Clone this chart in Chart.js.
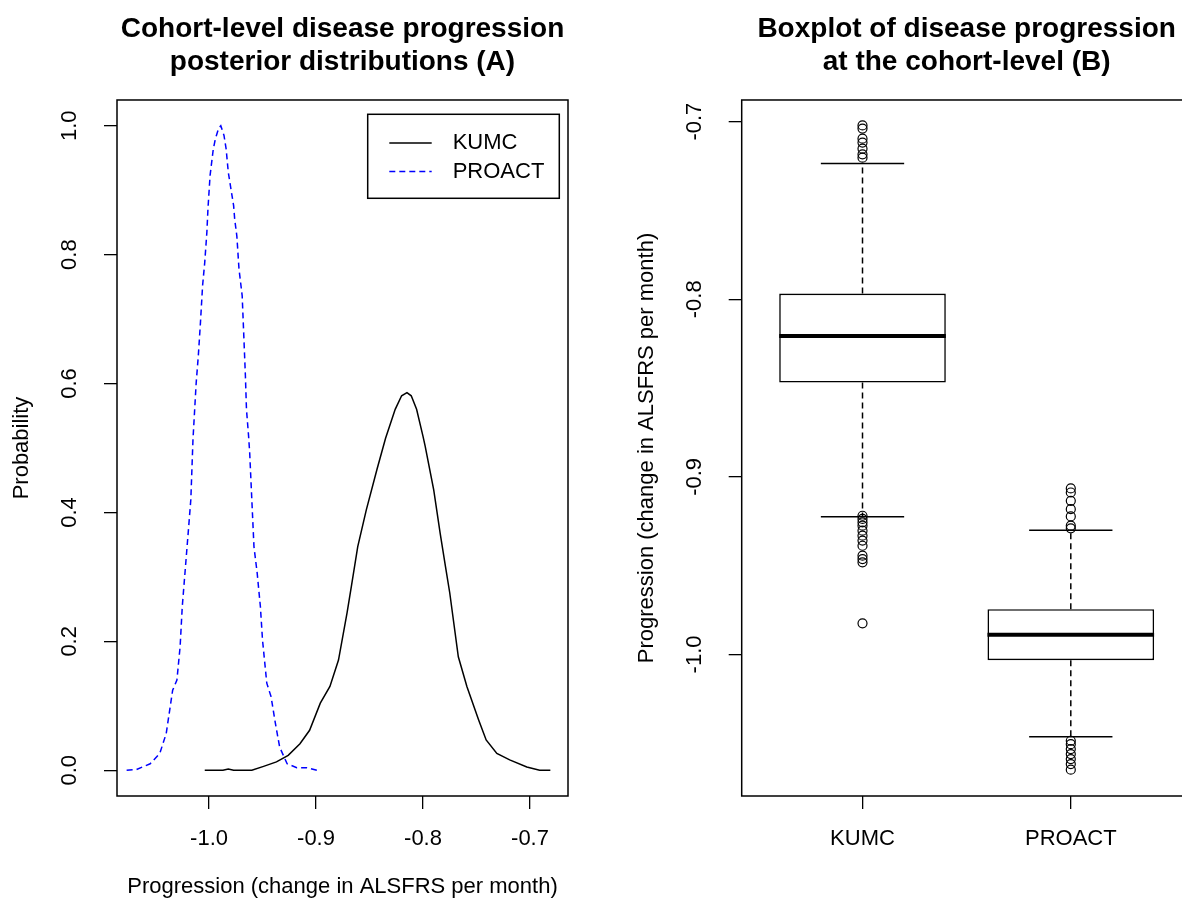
<!DOCTYPE html>
<html>
<head>
<meta charset="utf-8">
<title>Cohort-level disease progression</title>
<script src="https://cdn.jsdelivr.net/npm/chart.js@4.4.1/dist/chart.umd.min.js"></script>
<style>
  html, body { margin: 0; padding: 0; background: #fff; overflow: hidden; width: 1182px; height: 909px; }
  #densityChart { position: absolute; left: 0; top: 0; }
  #boxChart { position: absolute; left: 620px; top: 0; }
</style>
</head>
<body>
<canvas id="densityChart" width="600" height="909"></canvas>
<canvas id="boxChart" width="600" height="909"></canvas>
<script>
// panel A - posterior densities
const kumcX = [-1.004, -0.987, -0.982, -0.977, -0.960, -0.949, -0.937, -0.926, -0.915, -0.906,
    -0.896, -0.887, -0.879, -0.871, -0.867, -0.861, -0.853, -0.843, -0.835, -0.826,
    -0.820, -0.815, -0.811, -0.806, -0.800, -0.798, -0.790, -0.784, -0.779, -0.775,
    -0.767, -0.759, -0.748, -0.741, -0.731, -0.719, -0.703, -0.691, -0.681];
const kumcY = [0, 0, 0.002, 0, 0, 0.006, 0.013, 0.023, 0.041, 0.062,
    0.104, 0.130, 0.171, 0.244, 0.285, 0.347, 0.404, 0.467, 0.515, 0.560,
    0.581, 0.586, 0.581, 0.560, 0.518, 0.503, 0.435, 0.368, 0.316, 0.275,
    0.176, 0.130, 0.078, 0.047, 0.026, 0.016, 0.005, 0, 0];
const proactX = [-1.077, -1.068, -1.055, -1.046, -1.040, -1.034, -1.030, -1.027, -1.025, -1.022,
    -1.019, -1.017, -1.015, -1.012, -1.010, -1.008, -1.006, -1.004, -1.002, -1.001,
    -0.999, -0.996, -0.994, -0.991, -0.989, -0.986, -0.984, -0.982, -0.980, -0.977,
    -0.976, -0.974, -0.972, -0.969, -0.968, -0.966, -0.965, -0.963, -0.962, -0.960,
    -0.958, -0.955, -0.952, -0.950, -0.946, -0.942, -0.938, -0.934, -0.927, -0.918,
    -0.909, -0.899];
const proactY = [0, 0.001, 0.010, 0.026, 0.057, 0.124, 0.140, 0.192, 0.254, 0.316,
    0.378, 0.420, 0.513, 0.601, 0.643, 0.695, 0.752, 0.788, 0.835, 0.871,
    0.923, 0.964, 0.980, 0.996, 1.000, 0.985, 0.964, 0.928, 0.907, 0.876,
    0.855, 0.829, 0.778, 0.736, 0.695, 0.612, 0.560, 0.518, 0.493, 0.420,
    0.347, 0.306, 0.254, 0.202, 0.135, 0.114, 0.073, 0.036, 0.010, 0.004,
    0.004, 0];
const densityXTicks = [-1.0, -0.9, -0.8, -0.7];
const densityYTicks = [0, 0.2, 0.4, 0.6, 0.8, 1.0];

// panel B - boxplot summary per cohort
const cohorts = ['KUMC', 'PROACT'];
const lowerWhisker = [-0.9225, -1.0463];
const q1 = [-0.8469, -1.0032];
const median = [-0.8207, -0.9889];
const q3 = [-0.7968, -0.9745];
const upperWhisker = [-0.7236, -0.9300];
const kumcOutliers = [-0.7021, -0.7039, -0.7096, -0.7118, -0.7152, -0.7184, -0.7203,
    -0.9219, -0.9237, -0.9256, -0.9275, -0.9303, -0.9331, -0.9359, -0.9388,
    -0.9444, -0.9463, -0.9481, -0.9825];
const proactOutliers = [-0.9065, -0.9088, -0.9135, -0.9182, -0.9223, -0.9275, -0.9290,
    -1.0486, -1.0505, -1.0533, -1.0561, -1.0589, -1.0617, -1.0649];
const boxYTicks = [-1.0, -0.9, -0.8, -0.7];

Chart.defaults.font.family = 'Liberation Sans, Arial, sans-serif';
Chart.defaults.font.size = 22;
Chart.defaults.color = '#000';

const BOX_HALF = 0.4;   // half box width, in category units
const CAP_HALF = 0.2;

function toPoints(xs, ys) {
    return xs.map((x, i) => ({ x: x, y: ys[i] }));
}

function fixedTicks(values) {
    return scale => { scale.ticks = values.map(v => ({ value: v })); };
}

// R draws the title over the plot region, not the whole figure
const titleOverPlot = {
    id: 'titleOverPlot',
    afterLayout(chart) {
        const t = chart.titleBlock;
        if (!t) return;
        t.left = chart.chartArea.left;
        t.right = chart.chartArea.right;
        t.width = t.right - t.left;
    }
};

const plotFrame = {
    id: 'plotFrame',
    afterDatasetsDraw(chart, args, opts) {
        const { ctx, chartArea: a } = chart;
        ctx.save();
        ctx.strokeStyle = opts.color;
        ctx.lineWidth = opts.width;
        ctx.strokeRect(a.left, a.top, a.right - a.left, a.bottom - a.top);
        ctx.restore();
    }
};

const boxLegend = {
    id: 'boxLegend',
    afterDatasetsDraw(chart, args, o) {
        const { ctx, chartArea: a } = chart;
        const left = a.right - o.right - o.width;
        const top = a.top + o.top;
        ctx.save();
        ctx.fillStyle = '#fff';
        ctx.fillRect(left, top, o.width, o.height);
        ctx.strokeStyle = '#000';
        ctx.lineWidth = 1.5;
        ctx.strokeRect(left, top, o.width, o.height);
        ctx.font = o.font;
        ctx.textBaseline = 'middle';
        ctx.textAlign = 'left';
        chart.data.datasets.forEach((ds, i) => {
            const y = top + o.firstRow + i * o.rowGap;
            ctx.beginPath();
            ctx.setLineDash(ds.borderDash || []);
            ctx.strokeStyle = ds.borderColor;
            ctx.lineWidth = ds.borderWidth;
            ctx.moveTo(left + o.lineStart, y);
            ctx.lineTo(left + o.lineEnd, y);
            ctx.stroke();
            ctx.setLineDash([]);
            ctx.fillStyle = '#000';
            ctx.fillText(ds.label, left + o.textStart, y);
        });
        ctx.restore();
    }
};

const titleFont = { size: 28, weight: 'bold', lineHeight: 1.157 };
const tickGrid = { drawOnChartArea: false, tickLength: 13, color: '#000', lineWidth: 1.3 };

new Chart(document.getElementById('densityChart'), {
    type: 'line',
    data: {
        datasets: [
            {
                label: 'KUMC',
                data: toPoints(kumcX, kumcY),
                borderColor: '#000',
                borderWidth: 1.5,
                pointRadius: 0,
                tension: 0
            },
            {
                label: 'PROACT',
                data: toPoints(proactX, proactY),
                borderColor: '#0000ff',
                borderWidth: 1.5,
                borderDash: [6, 4],
                pointRadius: 0,
                tension: 0
            }
        ]
    },
    options: {
        responsive: false,
        animation: false,
        events: [],
        devicePixelRatio: 1,
        layout: { padding: { left: 0, right: 32, top: 0, bottom: 0 } },
        scales: {
            x: {
                type: 'linear',
                min: -1.086,
                max: -0.6645,
                afterBuildTicks: fixedTicks(densityXTicks),
                afterFit: s => { s.height = 113; },
                grid: tickGrid,
                border: { display: false },
                ticks: { padding: 17, callback: v => v.toFixed(1) },
                title: {
                    display: true,
                    text: 'Progression (change in ALSFRS per month)',
                    padding: { top: 0, bottom: 8.4 }
                }
            },
            y: {
                type: 'linear',
                min: -0.04,
                max: 1.04,
                afterBuildTicks: fixedTicks(densityYTicks),
                afterFit: s => { s.width = 117; },
                grid: tickGrid,
                border: { display: false },
                ticks: { minRotation: 90, maxRotation: 90, crossAlign: 'center', padding: 18.7, callback: v => v.toFixed(1) },
                title: { display: true, text: 'Probability', padding: { top: 8.8, bottom: 0 } }
            }
        },
        plugins: {
            legend: { display: false },
            tooltip: { enabled: false },
            title: {
                display: true,
                text: ['Cohort-level disease progression', 'posterior distributions (A)'],
                font: titleFont,
                color: '#000',
                padding: { top: 13.4, bottom: 21.8 }
            },
            plotFrame: { color: '#000', width: 1.5 },
            boxLegend: {
                right: 8.7, top: 14.3, width: 191.6, height: 84,
                firstRow: 28.7, rowGap: 28.5,
                lineStart: 21.6, lineEnd: 64, textStart: 85,
                font: '22px Liberation Sans, Arial, sans-serif'
            }
        }
    },
    plugins: [titleOverPlot, plotFrame, boxLegend]
});

// boxplot pieces built from the summary arrays
const whiskerPts = [];
const capPts = [];
const medianPts = [];
const boxes = [];
const outlierPts = [];
cohorts.forEach((name, i) => {
    const c = i + 1;
    whiskerPts.push({ x: c, y: q3[i] }, { x: c, y: upperWhisker[i] }, { x: c, y: null });
    whiskerPts.push({ x: c, y: q1[i] }, { x: c, y: lowerWhisker[i] }, { x: c, y: null });
    capPts.push({ x: c - CAP_HALF, y: upperWhisker[i] }, { x: c + CAP_HALF, y: upperWhisker[i] }, { x: c, y: null });
    capPts.push({ x: c - CAP_HALF, y: lowerWhisker[i] }, { x: c + CAP_HALF, y: lowerWhisker[i] }, { x: c, y: null });
    medianPts.push({ x: c - BOX_HALF, y: median[i] }, { x: c + BOX_HALF, y: median[i] }, { x: c, y: null });
    boxes.push({ x: c, y: [q1[i], q3[i]] });
});
kumcOutliers.forEach(v => outlierPts.push({ x: 1, y: v }));
proactOutliers.forEach(v => outlierPts.push({ x: 2, y: v }));

new Chart(document.getElementById('boxChart'), {
    type: 'bar',
    data: {
        datasets: [
            {
                type: 'scatter',
                label: 'outliers',
                data: outlierPts,
                pointStyle: 'circle',
                pointRadius: 4.5,
                pointBorderWidth: 1.2,
                pointBorderColor: '#000',
                pointBackgroundColor: 'rgba(0,0,0,0)',
                order: 0
            },
            {
                type: 'line',
                label: 'median',
                data: medianPts,
                borderColor: '#000',
                borderWidth: 4,
                pointRadius: 0,
                spanGaps: false,
                order: 1
            },
            {
                type: 'bar',
                label: 'IQR',
                data: boxes,
                backgroundColor: '#fff',
                borderColor: '#000',
                borderWidth: 1.6,
                borderSkipped: false,
                categoryPercentage: 0.8,
                barPercentage: 1.0,
                order: 2
            },
            {
                type: 'line',
                label: 'caps',
                data: capPts,
                borderColor: '#000',
                borderWidth: 1.5,
                pointRadius: 0,
                spanGaps: false,
                order: 3
            },
            {
                type: 'line',
                label: 'whiskers',
                data: whiskerPts,
                borderColor: '#000',
                borderWidth: 1.5,
                borderDash: [6, 4],
                pointRadius: 0,
                spanGaps: false,
                order: 4
            }
        ]
    },
    options: {
        responsive: false,
        animation: false,
        events: [],
        devicePixelRatio: 1,
        layout: { padding: { left: 0, right: 28.4, top: 0, bottom: 0 } },
        scales: {
            x: {
                type: 'linear',
                offset: false,
                min: 0.42,
                max: 2.58,
                afterBuildTicks: fixedTicks([1, 2]),
                afterFit: s => { s.height = 113; },
                grid: Object.assign({ offset: false }, tickGrid),
                border: { display: false },
                ticks: { padding: 17, callback: v => cohorts[v - 1] }
            },
            y: {
                type: 'linear',
                min: -1.0797,
                max: -0.6878,
                afterBuildTicks: fixedTicks(boxYTicks),
                afterFit: s => { s.width = 121.7; },
                grid: tickGrid,
                border: { display: false },
                ticks: { minRotation: 90, maxRotation: 90, crossAlign: 'center', padding: 15, callback: v => v.toFixed(1) },
                title: {
                    display: true,
                    text: 'Progression (change in ALSFRS per month)',
                    padding: { top: 13.8, bottom: 0 }
                }
            }
        },
        plugins: {
            legend: { display: false },
            tooltip: { enabled: false },
            title: {
                display: true,
                text: ['Boxplot of disease progression', 'at the cohort-level (B)'],
                font: titleFont,
                color: '#000',
                padding: { top: 13.4, bottom: 21.8 }
            },
            plotFrame: { color: '#000', width: 1.5 }
        }
    },
    plugins: [titleOverPlot, plotFrame]
});
</script>
</body>
</html>
